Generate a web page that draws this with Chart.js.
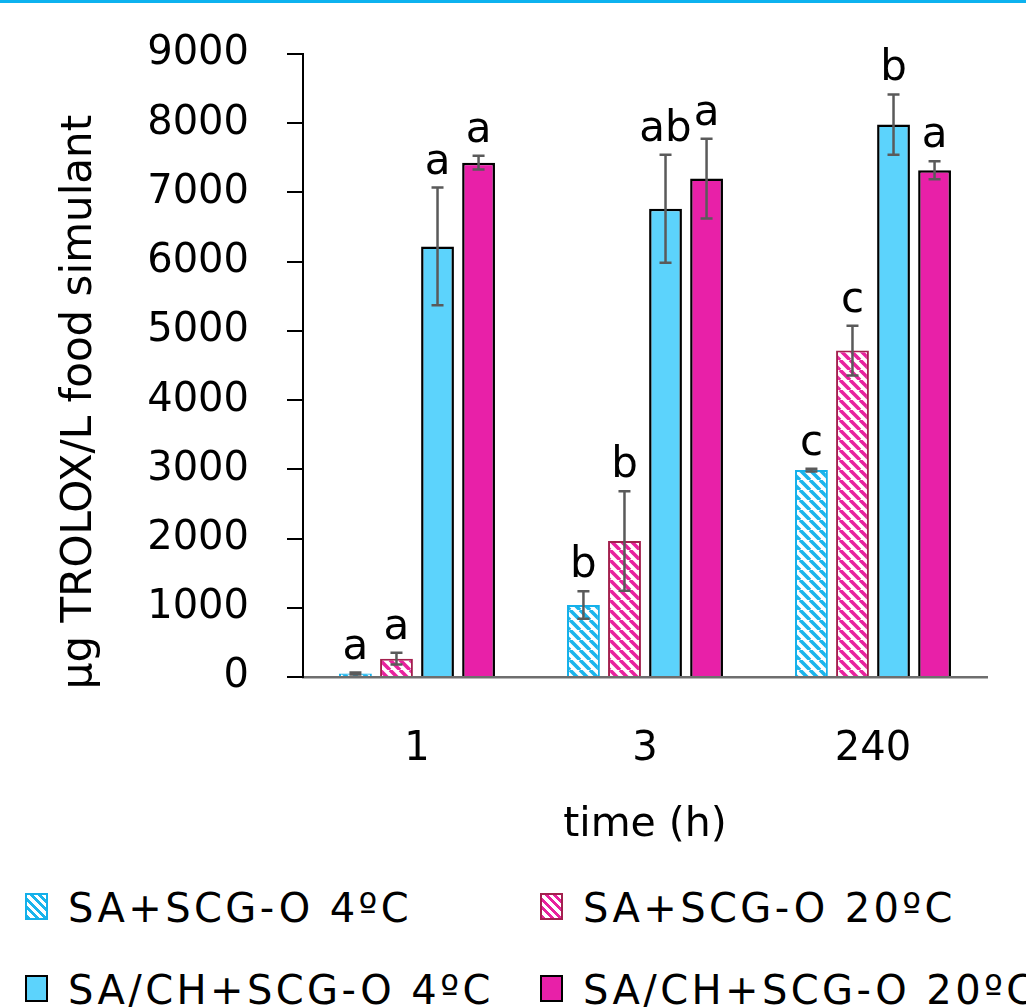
<!DOCTYPE html>
<html><head><meta charset="utf-8">
<script src="https://cdn.jsdelivr.net/npm/chart.js@4.4.1/dist/chart.umd.min.js"></script>
<style>
html,body{margin:0;padding:0;background:#fff;overflow:hidden;width:1026px;height:1007px;}
#wrap{position:relative;width:1026px;height:1007px;overflow:hidden;}
#topline{position:absolute;left:0;top:0;width:1026px;height:3px;background:#0db2ef;z-index:5;}
#c{position:absolute;left:0;top:0;}
.leg{position:absolute;font-family:'DejaVu Sans';font-size:40px;line-height:48px;letter-spacing:3.4px;color:#000;white-space:nowrap;}
.sw{position:absolute;width:23px;height:27px;box-sizing:border-box;}
</style></head>
<body><div id="wrap">
<div id="topline"></div>
<canvas id="c" width="1026" height="870"></canvas>
<div id="legend"></div>
</div>
<script>
// ---- data ----
const categories = ['1', '3', '240'];
const seriesNames = ['SA+SCG-O 4ºC', 'SA+SCG-O 20ºC', 'SA/CH+SCG-O 4ºC', 'SA/CH+SCG-O 20ºC'];
const sa4 = [50, 1040, 2990];
const sa4Err = [15, 200, 20];
const sa20 = [265, 1965, 4715];
const sa20Err = [85, 720, 360];
const sach4 = [6220, 6765, 7980];
const sach4Err = [850, 780, 435];
const sach20 = [7430, 7200, 7320];
const sach20Err = [100, 575, 130];
const sa4Letters = ['a', 'b', 'c'];
const sa20Letters = ['a', 'b', 'c'];
const sach4Letters = ['a', 'ab', 'b'];
const sach20Letters = ['a', 'a', 'a'];
const yMin = 0, yMax = 9000, yStep = 1000;
const xTitle = 'time (h)';
const yTitle = 'μg TROLOX/L food simulant';

// ---- styles ----
const FONT = 'DejaVu Sans';
const cyanStripe = '#1ab4ec', cyanHatchBorder = '#14b0ea';
const pinkStripe = '#e8229e', pinkHatchBorder = '#a3204e';
const cyanSolid = '#5cd3fc', magentaSolid = '#e820a8';

const canvas = document.getElementById('c');
const mainCtx = canvas.getContext('2d');
function hatch(color) {
  const s = 10;
  const p = document.createElement('canvas');
  p.width = s; p.height = s;
  const g = p.getContext('2d');
  g.fillStyle = '#fff'; g.fillRect(0, 0, s, s);
  g.strokeStyle = color; g.lineWidth = 3.6; g.beginPath();
  for (const k of [-s, 0, s]) { g.moveTo(k, 0); g.lineTo(k + s, s); }
  g.stroke();
  return mainCtx.createPattern(p, 'repeat');
}

const datasets = [
  {label: seriesNames[0], data: sa4, errors: sa4Err, letters: sa4Letters,
   backgroundColor: hatch(cyanStripe), borderColor: cyanHatchBorder, borderWidth: 2},
  {label: seriesNames[1], data: sa20, errors: sa20Err, letters: sa20Letters,
   backgroundColor: hatch(pinkStripe), borderColor: pinkHatchBorder, borderWidth: 2},
  {label: seriesNames[2], data: sach4, errors: sach4Err, letters: sach4Letters,
   backgroundColor: cyanSolid, borderColor: '#000', borderWidth: 2.5},
  {label: seriesNames[3], data: sach20, errors: sach20Err, letters: sach20Letters,
   backgroundColor: magentaSolid, borderColor: '#000', borderWidth: 2.5}
];

const errPlugin = {
  id: 'errs',
  afterDatasetsDraw(chart) {
    const ctx = chart.ctx, ys = chart.scales.y;
    chart.data.datasets.forEach((ds, i) => {
      const meta = chart.getDatasetMeta(i);
      meta.data.forEach((el, j) => {
        const v = ds.data[j], e = ds.errors[j];
        const x = el.x;
        const t = ys.getPixelForValue(v + e);
        const b = ys.getPixelForValue(Math.max(0, v - e));
        ctx.save();
        ctx.strokeStyle = '#5a5a5a'; ctx.lineWidth = 2.5;
        ctx.beginPath();
        ctx.moveTo(x, t); ctx.lineTo(x, b);
        ctx.moveTo(x - 6, t); ctx.lineTo(x + 6, t);
        ctx.moveTo(x - 6, b); ctx.lineTo(x + 6, b);
        ctx.stroke();
        ctx.font = '42px "' + FONT + '"';
        ctx.fillStyle = '#000'; ctx.textAlign = 'center'; ctx.textBaseline = 'alphabetic';
        ctx.fillText(ds.letters[j], x, t - 14);
        ctx.restore();
      });
    });
  },
  afterDraw(chart) {
    const ctx = chart.ctx;
    ctx.save();
    ctx.translate(80, 402);
    ctx.rotate(-Math.PI / 2);
    ctx.font = '42px "' + FONT + '"';
    ctx.fillStyle = '#000'; ctx.textAlign = 'center'; ctx.textBaseline = 'middle';
    ctx.fillText(yTitle, 0, 0);
    ctx.restore();
  }
};

new Chart(canvas, {
  type: 'bar',
  data: {labels: categories, datasets: datasets},
  options: {
    responsive: false,
    animation: false,
    events: [],
    layout: {padding: {left: 0, right: 39, top: 54, bottom: 0}},
    datasets: {bar: {categoryPercentage: 0.72, barPercentage: 0.8}},
    plugins: {legend: {display: false}, tooltip: {enabled: false}, title: {display: false}},
    scales: {
      x: {
        grid: {display: false, drawTicks: false},
        border: {display: true, color: '#6e6e6e', width: 2.5},
        ticks: {color: '#000', font: {family: FONT, size: 40}, padding: 49},
        title: {display: true, text: xTitle, color: '#000', font: {family: FONT, size: 41}, padding: {top: 0, bottom: 20}},
        afterFit(s) { s.height = 193; }
      },
      y: {
        min: yMin, max: yMax,
        grid: {display: true, drawOnChartArea: false, drawTicks: true, tickLength: 16, color: '#000', lineWidth: 2},
        border: {display: true, color: '#000', width: 2},
        ticks: {stepSize: yStep, color: '#000', font: {family: FONT, size: 40}, padding: 38,
                callback: (v) => String(v)},
        afterFit(s) { s.width = 303; s.paddingTop = 0; s.paddingBottom = 0; }
      }
    }
  },
  plugins: [errPlugin]
});

// ---- HTML legend ----
const legendDiv = document.getElementById('legend');
const swatchCss = [
  'border:2px solid ' + cyanHatchBorder + ';background:repeating-linear-gradient(45deg,' + cyanStripe + ' 0 2.8px,#fff 2.8px 6px);',
  'border:2px solid ' + pinkHatchBorder + ';background:repeating-linear-gradient(45deg,' + pinkStripe + ' 0 2.8px,#fff 2.8px 6px);',
  'border:2px solid #000;background:' + cyanSolid + ';',
  'border:2px solid #000;background:' + magentaSolid + ';'
];
const colX = [25, 540], rowTop = [884, 966];
seriesNames.forEach((name, i) => {
  const cx = colX[i % 2], ry = rowTop[Math.floor(i / 2)];
  const sw = document.createElement('div');
  sw.className = 'sw';
  sw.style.cssText = 'left:' + cx + 'px;top:' + (ry + 9) + 'px;' + swatchCss[i];
  legendDiv.appendChild(sw);
  const t = document.createElement('div');
  t.className = 'leg';
  t.style.left = (cx + 43) + 'px';
  t.style.top = ry + 'px';
  t.textContent = name;
  legendDiv.appendChild(t);
});
</script>
</body></html>
